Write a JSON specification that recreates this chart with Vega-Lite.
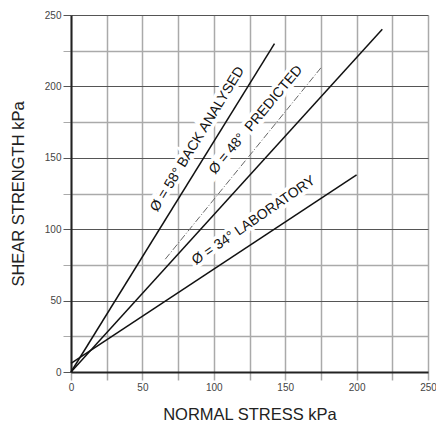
{
  "$schema": "https://vega.github.io/schema/vega-lite/v6.json",
  "width": 357,
  "height": 357,
  "autosize": "none",
  "padding": {"left": 71, "top": 15, "right": 8, "bottom": 54},
  "background": "white",
  "config": {"view": {"stroke": null}, "font": "Liberation Sans"},
  "datasets": {
    "lines": [
      {"name": "58", "x": 0, "y": 0},
      {"name": "58", "x": 142.5, "y": 230},
      {"name": "48", "x": 0, "y": 0},
      {"name": "48", "x": 218, "y": 240},
      {"name": "34", "x": 0, "y": 6},
      {"name": "34", "x": 200, "y": 138},
      {"name": "trend", "x": 66, "y": 79},
      {"name": "trend", "x": 175, "y": 213}
    ],
    "labels": [
      {"name": "58", "label": "Ø = 58° BACK ANALYSED", "x": 88.6, "y": 163},
      {"name": "48", "label": "Ø = 48°\u00a0\u00a0PREDICTED", "x": 129.5, "y": 176.5},
      {"name": "34", "label": "Ø = 34° LABORATORY", "x": 128, "y": 106}
    ]
  },
  "layer": [
    {
      "data": {"name": "lines"},
      "transform": [{"filter": "datum.name !== 'trend'"}],
      "mark": {"type": "line", "color": "#111", "strokeWidth": 1.5},
      "encoding": {
        "x": {
          "field": "x", "type": "quantitative",
          "scale": {"domain": [0, 250], "nice": false, "zero": false},
          "axis": {
            "title": "NORMAL STRESS kPa",
            "values": [0, 25, 50, 75, 100, 125, 150, 175, 200, 225, 250],
            "tickCount": 20,
            "labelExpr": "datum.value % 50 === 0 ? datum.label : ''",
            "grid": true, "gridColor": "#aaa", "gridWidth": 1.5,
            "tickColor": "#aaa", "tickWidth": 1.5, "tickSize": 8,
            "domainColor": "#222", "domainWidth": 2,
            "labelFontSize": 10, "labelColor": "#444", "labelPadding": 2,
            "labelFlush": false, "labelOverlap": false,
            "titleFontSize": 16.5, "titleFontWeight": "normal", "titleColor": "#222",
            "titlePadding": 14
          }
        },
        "y": {
          "field": "y", "type": "quantitative",
          "scale": {"domain": [0, 250], "nice": false, "zero": false},
          "axis": {
            "title": "SHEAR STRENGTH kPa",
            "values": [0, 25, 50, 75, 100, 125, 150, 175, 200, 225, 250],
            "tickCount": 20,
            "labelExpr": "datum.value % 50 === 0 ? datum.label : ''",
            "grid": true,
            "gridColor": {"condition": {"test": "datum.value % 50 === 0", "value": "#555"}, "value": "#aaa"},
            "gridWidth": {"condition": {"test": "datum.value % 50 === 0", "value": 1}, "value": 1.5},
            "tickColor": {"condition": {"test": "datum.value % 50 === 0", "value": "#555"}, "value": "#aaa"},
            "tickSize": 8,
            "domainColor": "#222", "domainWidth": 2,
            "labelFontSize": 10, "labelColor": "#444", "labelPadding": 2,
            "labelFlush": false, "labelOverlap": false,
            "titleFontSize": 16.5, "titleFontWeight": "normal", "titleColor": "#222",
            "titlePadding": 18
          }
        },
        "detail": {"field": "name"}
      }
    },
    {
      "data": {"name": "lines"},
      "transform": [{"filter": "datum.name === 'trend'"}],
      "mark": {"type": "line", "color": "#666", "strokeWidth": 1, "strokeDash": [7, 2, 1, 2]},
      "encoding": {
        "x": {"field": "x", "type": "quantitative"},
        "y": {"field": "y", "type": "quantitative"}
      }
    },
    {
      "data": {"name": "labels"},
      "transform": [{"filter": "datum.name === '58'"}],
      "mark": {"type": "text", "angle": -58.5, "fontSize": 14, "align": "center", "baseline": "middle", "stroke": "white", "strokeWidth": 7, "fill": "white"},
      "encoding": {"x": {"field": "x", "type": "quantitative"}, "y": {"field": "y", "type": "quantitative"}, "text": {"field": "label"}}
    },
    {
      "data": {"name": "labels"},
      "transform": [{"filter": "datum.name === '48'"}],
      "mark": {"type": "text", "angle": -50, "fontSize": 14, "align": "center", "baseline": "middle", "stroke": "white", "strokeWidth": 7, "fill": "white"},
      "encoding": {"x": {"field": "x", "type": "quantitative"}, "y": {"field": "y", "type": "quantitative"}, "text": {"field": "label"}}
    },
    {
      "data": {"name": "labels"},
      "transform": [{"filter": "datum.name === '34'"}],
      "mark": {"type": "text", "angle": -34.5, "fontSize": 14, "align": "center", "baseline": "middle", "stroke": "white", "strokeWidth": 7, "fill": "white"},
      "encoding": {"x": {"field": "x", "type": "quantitative"}, "y": {"field": "y", "type": "quantitative"}, "text": {"field": "label"}}
    },
    {
      "data": {"name": "labels"},
      "transform": [{"filter": "datum.name === '58'"}],
      "mark": {"type": "text", "angle": -58.5, "fontSize": 14, "align": "center", "baseline": "middle", "color": "#111"},
      "encoding": {"x": {"field": "x", "type": "quantitative"}, "y": {"field": "y", "type": "quantitative"}, "text": {"field": "label"}}
    },
    {
      "data": {"name": "labels"},
      "transform": [{"filter": "datum.name === '48'"}],
      "mark": {"type": "text", "angle": -50, "fontSize": 14, "align": "center", "baseline": "middle", "color": "#111"},
      "encoding": {"x": {"field": "x", "type": "quantitative"}, "y": {"field": "y", "type": "quantitative"}, "text": {"field": "label"}}
    },
    {
      "data": {"name": "labels"},
      "transform": [{"filter": "datum.name === '34'"}],
      "mark": {"type": "text", "angle": -34.5, "fontSize": 14, "align": "center", "baseline": "middle", "color": "#111"},
      "encoding": {"x": {"field": "x", "type": "quantitative"}, "y": {"field": "y", "type": "quantitative"}, "text": {"field": "label"}}
    }
  ]
}
